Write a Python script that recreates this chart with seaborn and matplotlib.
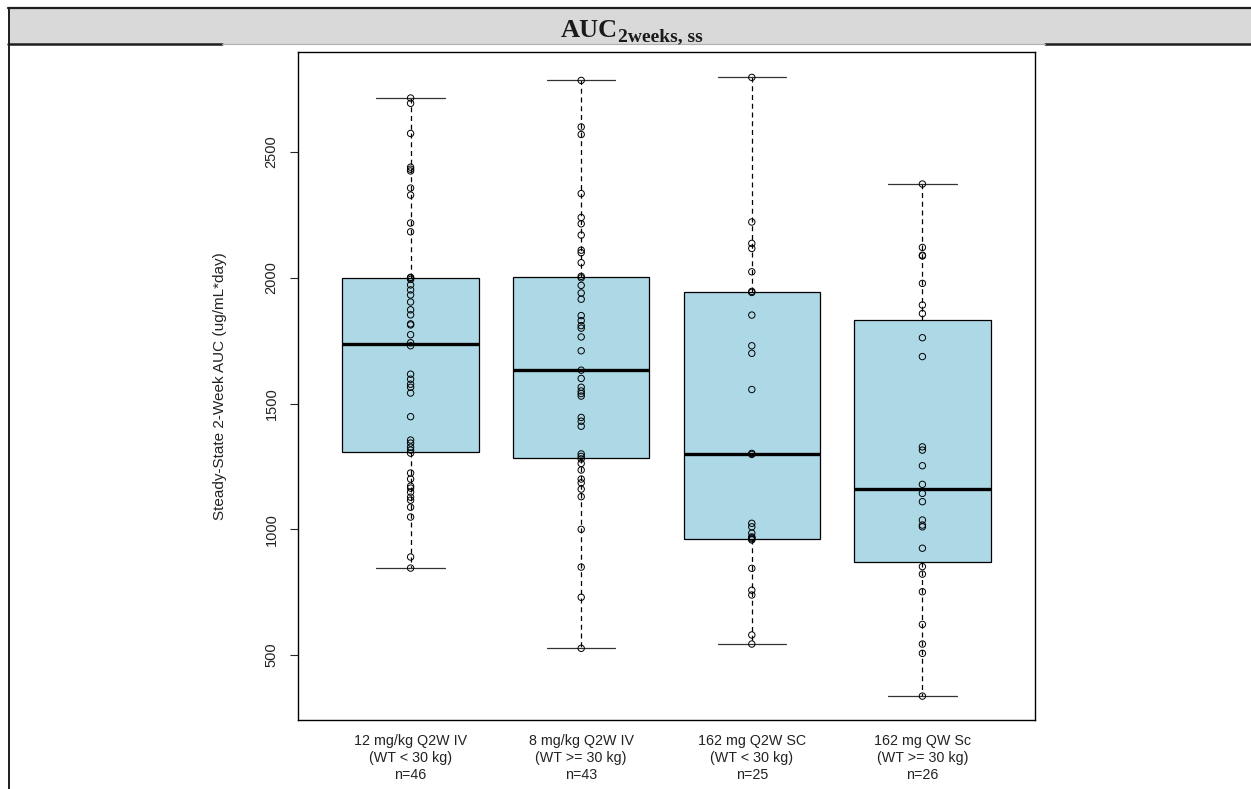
import numpy as np
import pandas as pd
import matplotlib
matplotlib.use("Agg")
import matplotlib.pyplot as plt
from matplotlib.lines import Line2D
from matplotlib.patches import Rectangle
import seaborn as sns

# Dosing regimens and weight bands (x-axis categories)
regimens = ["12 mg/kg Q2W IV", "8 mg/kg Q2W IV", "162 mg Q2W SC", "162 mg QW Sc"]
weight_bands = ["(WT < 30 kg)", "(WT >= 30 kg)", "(WT < 30 kg)", "(WT >= 30 kg)"]

# Individual steady-state 2-week AUC values (ug/mL*day)
auc_12mgkg_q2w_iv = [2715, 2694, 2574, 2440, 2432, 2425, 2357, 2329, 2218, 2183,
                     2002, 2000, 1994, 1972, 1952, 1932, 1904, 1873, 1853, 1817,
                     1813, 1774, 1742, 1730, 1617, 1597, 1577, 1565, 1542, 1448,
                     1355, 1343, 1327, 1315, 1303, 1224, 1200, 1172, 1164, 1148,
                     1128, 1116, 1088, 1049, 890, 846]
auc_8mgkg_q2w_iv = [2785, 2600, 2570, 2335, 2240, 2215, 2170, 2110, 2100, 2060,
                    2006, 2000, 1970, 1940, 1915, 1850, 1830, 1810, 1800, 1765,
                    1710, 1633, 1600, 1565, 1550, 1540, 1530, 1445, 1430, 1410,
                    1300, 1290, 1280, 1262, 1236, 1200, 1185, 1160, 1130, 1000,
                    850, 730, 527]
auc_162mg_q2w_sc = [2797, 2222, 2137, 2117, 2024, 1946, 1942, 1852, 1730, 1700,
                    1556, 1302, 1298, 1024, 1010, 985, 970, 966, 962, 958,
                    845, 758, 739, 580, 544]
auc_162mg_qw_sc = [2373, 2121, 2090, 2087, 1978, 1892, 1858, 1762, 1687, 1328,
                   1315, 1253, 1179, 1143, 1110, 1037, 1017, 1010, 925, 852,
                   822, 752, 622, 544, 507, 337]

groups = [auc_12mgkg_q2w_iv, auc_8mgkg_q2w_iv, auc_162mg_q2w_sc, auc_162mg_qw_sc]
labels = [f"{r}\n{w}\nn={len(v)}" for r, w, v in zip(regimens, weight_bands, groups)]

df = pd.concat(
    [pd.DataFrame({"group": lab, "auc": vals}) for lab, vals in zip(labels, groups)],
    ignore_index=True,
)

sns.set_theme(style="white")
plt.rcParams["font.family"] = ["Liberation Sans", "DejaVu Sans"]

W, H = 1251, 789
fig = plt.figure(figsize=(W / 100, H / 100), dpi=100)
fig.patch.set_facecolor("white")

# Header band with section title
fig.add_artist(Rectangle((9 / W, 1 - 44 / H), 1 - 9 / W, 36 / H,
                         transform=fig.transFigure, facecolor="#d9d9d9",
                         edgecolor="none", zorder=0))
dark = "#1e1e1e"
fig.add_artist(Line2D([8 / W, 1], [1 - 8 / H] * 2, color=dark, lw=1.6))
fig.add_artist(Line2D([8 / W, 222 / W], [1 - 44 / H] * 2, color=dark, lw=1.8))
fig.add_artist(Line2D([1045 / W, 1], [1 - 44 / H] * 2, color=dark, lw=1.8))
fig.add_artist(Line2D([222 / W, 1045 / W], [1 - 44 / H] * 2, color="#b0b0b0", lw=0.8))
fig.add_artist(Line2D([9 / W, 9 / W], [0, 1 - 8 / H], color=dark, lw=1.4))

title_main = fig.text(561 / W, 1 - 37 / H, "AUC", ha="left", va="baseline",
                      fontsize=19, fontweight="bold", color="#1a1a1a",
                      family="Liberation Serif")
renderer = fig.canvas.get_renderer()
bb = title_main.get_window_extent(renderer)
fig.text(bb.x1 / W, 1 - 41 / H, "2weeks, ss", ha="left", va="baseline",
         fontsize=14, fontweight="bold", color="#1a1a1a",
         family="Liberation Serif")

ax = fig.add_axes([298 / W, 1 - 720 / H, (1035 - 298) / W, (720 - 52) / H])

sns.boxplot(data=df, x="group", y="auc", order=labels, color="lightblue",
            saturation=1, linecolor="black", linewidth=0.9, width=0.8,
            showfliers=False,
            whiskerprops=dict(linestyle=(0, (4, 3))),
            capprops=dict(color="#333333"),
            medianprops=dict(linewidth=2.4),
            ax=ax)
sns.stripplot(data=df, x="group", y="auc", order=labels, jitter=False,
              color="black", size=4.6, linewidth=0.7, edgecolor="black",
              zorder=5, ax=ax)
for coll in ax.collections:
    coll.set_facecolor("none")
    coll.set_edgecolor("black")

ax.set_xlim(-0.66, 3.66)
ax.set_ylim(242, 2898)
ax.set_yticks([500, 1000, 1500, 2000, 2500])
ax.tick_params(axis="y", which="major", left=True, length=6, width=0.8,
               pad=8, labelsize=10.5, labelrotation=90, labelcolor="#222222")
for t in ax.get_yticklabels():
    t.set_verticalalignment("center")
ax.tick_params(axis="x", length=0, pad=10, labelsize=10.3, labelcolor="#222222")
for t in ax.get_xticklabels():
    t.set_linespacing(1.3)
ax.set_xlabel("")
ax.set_ylabel("Steady-State 2-Week AUC (ug/mL*day)", fontsize=11, color="#222222")
ax.yaxis.set_label_coords(-0.097, 0.5)
for s in ax.spines.values():
    s.set_visible(True)
    s.set_color("black")
    s.set_linewidth(1.0)

fig.savefig("out.png", dpi=100)
